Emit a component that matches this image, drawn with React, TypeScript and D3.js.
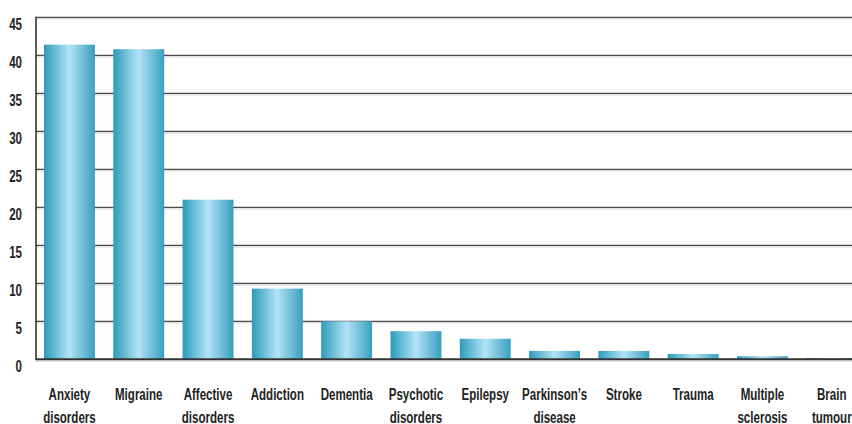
import React from "react";
import * as d3 from "d3";

// Share of cases per neurological / psychiatric condition
const categories: string[][] = [
  ["Anxiety", "disorders"],
  ["Migraine"],
  ["Affective", "disorders"],
  ["Addiction"],
  ["Dementia"],
  ["Psychotic", "disorders"],
  ["Epilepsy"],
  ["Parkinson\u2019s", "disease"],
  ["Stroke"],
  ["Trauma"],
  ["Multiple", "sclerosis"],
  ["Brain", "tumour"],
];
const values: number[] = [41.4, 40.8, 21.0, 9.3, 5.0, 3.7, 2.7, 1.1, 1.1, 0.7, 0.4, 0.17];
const yTicks: number[] = [0, 5, 10, 15, 20, 25, 30, 35, 40, 45];

const W = 852;
const H = 424;
const left = 36;
const top = 17.3;
const bottom = 359.3;
const FONT = "'Liberation Sans', Arial, sans-serif";
const SQUEEZE = 0.68;

export default function App() {
  const keys = categories.map((c) => c.join(" "));
  const x = d3
    .scaleBand<string>()
    .domain(keys)
    .range([left, 865.2])
    .paddingInner(0.265)
    .paddingOuter(0.115);
  const y = d3.scaleLinear().domain([0, 45]).range([bottom, top]);

  return (
    <svg
      width={W}
      height={H}
      style={{ position: "absolute", left: 0, top: 0, background: "#fff" }}
    >
      <defs>
        <linearGradient id="barGrad" x1="0" x2="1" y1="0" y2="0">
          <stop offset="0" stopColor="#2d9bbb" />
          <stop offset="0.5" stopColor="#b2e3f6" />
          <stop offset="1" stopColor="#379fbe" />
        </linearGradient>
      </defs>

      {/* horizontal grid lines with a soft shadow */}
      {yTicks
        .filter((t) => t > 0)
        .map((t) => (
          <g key={`g${t}`}>
            <line x1={left} x2={W} y1={y(t) + 1.6} y2={y(t) + 1.6} stroke="#cfcfcf" strokeWidth={1} />
            <line x1={left} x2={W} y1={y(t)} y2={y(t)} stroke="#4a4a4a" strokeWidth={1.3} />
          </g>
        ))}

      {/* bars */}
      {values.map((v, i) => (
        <rect
          key={keys[i]}
          x={x(keys[i])}
          y={y(v)}
          width={x.bandwidth()}
          height={y(0) - y(v)}
          fill="url(#barGrad)"
        />
      ))}

      {/* axes */}
      <line x1={left} x2={W} y1={y(0) + 1.8} y2={y(0) + 1.8} stroke="#cfcfcf" strokeWidth={1} />
      <line x1={left} x2={W} y1={y(0)} y2={y(0)} stroke="#333" strokeWidth={2} />
      <line x1={left} x2={left} y1={top - 0.6} y2={y(0) + 1} stroke="#333" strokeWidth={1.6} />

      {/* y tick labels */}
      {yTicks.map((t) => (
        <text
          key={`t${t}`}
          transform={`translate(22,${y(t) + 12.6}) scale(${SQUEEZE},1)`}
          textAnchor="end"
          fontFamily={FONT}
          fontWeight="bold"
          fontSize={17}
          fill="#222"
        >
          {t}
        </text>
      ))}

      {/* category labels */}
      {categories.map((lines, i) => {
        const cx = (x(keys[i]) as number) + x.bandwidth() / 2;
        return (
          <g key={`c${i}`} transform={`translate(${cx},0) scale(${SQUEEZE},1)`}>
            {lines.map((ln, j) => (
              <text
                key={j}
                x={0}
                y={400.5 + j * 23}
                textAnchor="middle"
                fontFamily={FONT}
                fontWeight="bold"
                fontSize={17}
                fill="#222"
              >
                {ln}
              </text>
            ))}
          </g>
        );
      })}
    </svg>
  );
}
